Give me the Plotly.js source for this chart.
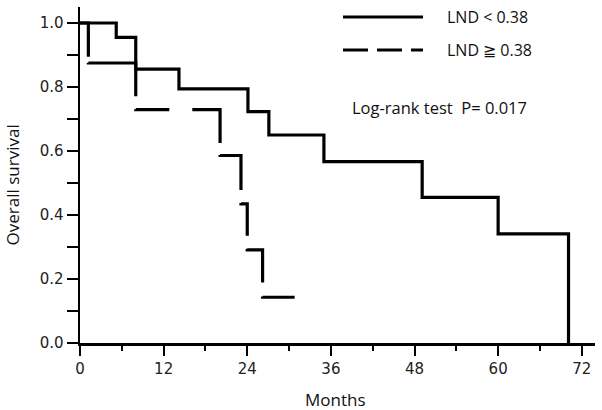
<!DOCTYPE html>
<html>
<head>
<meta charset="utf-8">
<script src="https://cdn.plot.ly/plotly-3.0.1.min.js"></script>
<style>html,body{margin:0;padding:0;background:#fff}#chart{width:602px;height:410px}</style>
</head>
<body>
<div id="chart"></div>
<script>
// Kaplan-Meier step data
const lowMonths = [0, 5.2, 8.0, 14.2, 24.1, 27.1, 35.0, 49.1, 60.0, 70.1];
const lowSurvival = [1.0, 0.955, 0.856, 0.794, 0.723, 0.650, 0.567, 0.455, 0.341, 0.0];
const highMonths = [0, 1.2, 8.0, 20.1, 23.1, 24.0, 26.2, 30.8];
const highSurvival = [1.0, 0.875, 0.729, 0.586, 0.435, 0.291, 0.143, 0.143];
const seriesNames = ['LND < 0.38', 'LND \u2267 0.38'];
const xTicks = [0, 12, 24, 36, 48, 60, 72];
const yTicks = [0.0, 0.2, 0.4, 0.6, 0.8, 1.0];
const pValueText = 'Log-rank test  P= 0.017';

const textFont = {family: '"Open Sans", "Noto Sans", sans-serif', size: 16, color: '#111'};
const tickFont = {family: '"DejaVu Sans", Verdana, sans-serif', size: 15, color: '#222'};

const traces = [
  {x: lowMonths, y: lowSurvival, name: seriesNames[0], mode: 'lines',
   line: {shape: 'hv', color: '#000', width: 3.2}},
  {x: highMonths, y: highSurvival, name: seriesNames[1], mode: 'lines',
   line: {shape: 'hv', color: '#000', width: 3.2,
          dash: '42px,6px,81px,13px,34px,23px,61px,12px,56px,13px,39px,13px,49px,14px,60px'}}
];

const axisCommon = {
  showline: true, linecolor: '#000', linewidth: 2.5, mirror: false,
  showgrid: false, zeroline: false, ticks: 'outside', tickcolor: '#000',
  tickwidth: 2, tickfont: tickFont, fixedrange: true
};

const layout = {
  width: 602, height: 410,
  margin: {l: 80, r: 7, t: 7, b: 67, pad: 0},
  paper_bgcolor: '#fff', plot_bgcolor: '#fff',
  showlegend: false,
  xaxis: Object.assign({}, axisCommon, {
    range: [0, 73.9], tickmode: 'array', tickvals: xTicks, ticktext: xTicks.map(String),
    ticklen: 10,
    minor: {dtick: 6, tick0: 0, ticks: 'outside', ticklen: 5, tickwidth: 2, tickcolor: '#000', showgrid: false}
  }),
  yaxis: Object.assign({}, axisCommon, {
    range: [0, 1.05], tickmode: 'array', tickvals: yTicks, ticktext: yTicks.map(v => v.toFixed(1)),
    ticklen: 11,
    minor: {dtick: 0.1, tick0: 0, ticks: 'outside', ticklen: 11, tickwidth: 2, tickcolor: '#000', showgrid: false}
  }),
  shapes: [
    {type: 'line', xref: 'paper', yref: 'paper', x0: 0.5107, x1: 0.666, y0: 0.970, y1: 0.970,
     line: {color: '#000', width: 3}},
    {type: 'line', xref: 'paper', yref: 'paper', x0: 0.5107, x1: 0.666, y0: 0.872, y1: 0.872,
     line: {color: '#000', width: 3, dash: '25px,9px'}}
  ],
  annotations: [
    {xref: 'paper', yref: 'paper', x: 0.7087, y: 0.970, xanchor: 'left', yanchor: 'middle',
     text: seriesNames[0], showarrow: false, font: textFont},
    {xref: 'paper', yref: 'paper', x: 0.7087, y: 0.872, xanchor: 'left', yanchor: 'middle',
     text: seriesNames[1], showarrow: false, font: textFont},
    {xref: 'paper', yref: 'paper', x: 0.524, y: 0.702, xanchor: 'left', yanchor: 'middle',
     text: pValueText, showarrow: false, font: Object.assign({}, textFont, {size: 16.5})},
    {xref: 'paper', yref: 'paper', x: 0.497, y: -0.1667, xanchor: 'center', yanchor: 'middle',
     text: 'Months', showarrow: false, font: Object.assign({}, textFont, {size: 17})},
    {xref: 'paper', yref: 'paper', x: -0.132, y: 0.469, xanchor: 'center', yanchor: 'middle',
     text: 'Overall survival', textangle: -90, showarrow: false, font: Object.assign({}, textFont, {size: 17})}
  ]
};

Plotly.newPlot('chart', traces, layout, {displayModeBar: false, staticPlot: true});
</script>
</body>
</html>
